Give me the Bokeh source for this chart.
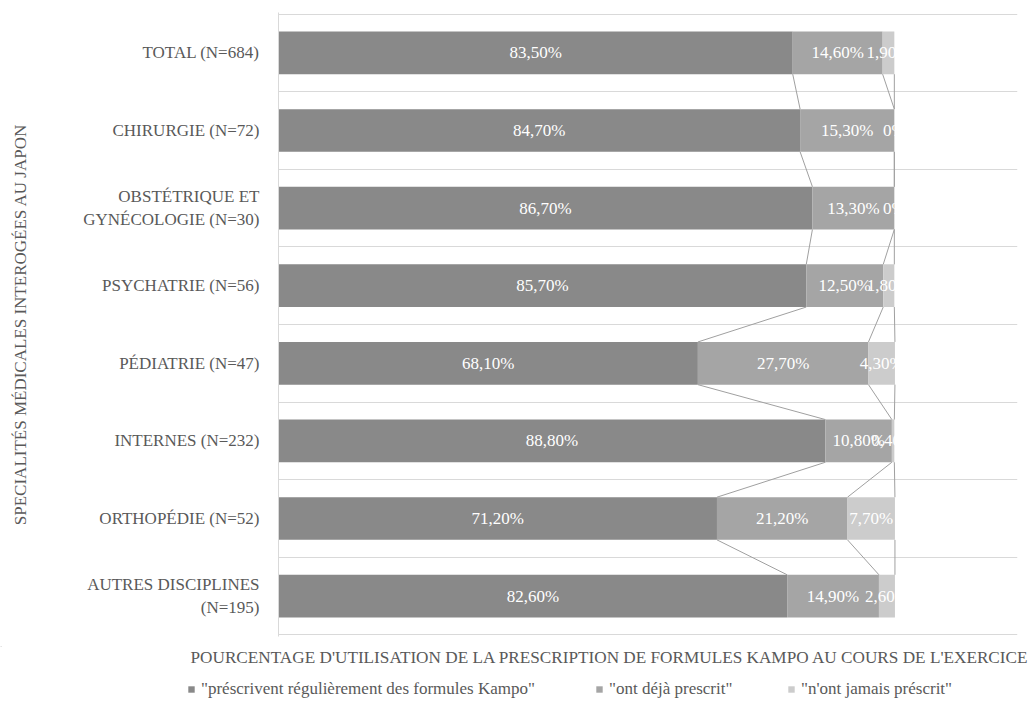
import numpy as np
from bokeh.plotting import figure
from bokeh.models import Range1d, FixedTicker, Legend, LegendItem, ColumnDataSource, Label
from bokeh.embed import file_html
from bokeh.resources import INLINE
from bokeh.core.properties import value

categories = [
    "TOTAL (N=684)",
    "CHIRURGIE (N=72)",
    "OBSTÉTRIQUE ET\nGYNÉCOLOGIE (N=30)",
    "PSYCHATRIE (N=56)",
    "PÉDIATRIE (N=47)",
    "INTERNES (N=232)",
    "ORTHOPÉDIE (N=52)",
    "AUTRES DISCIPLINES\n(N=195)",
]
regulierement = [83.5, 84.7, 86.7, 85.7, 68.1, 88.8, 71.2, 82.6]
deja_prescrit = [14.6, 15.3, 13.3, 12.5, 27.7, 10.8, 21.2, 14.9]
jamais_prescrit = [1.9, 0.0, 0.0, 1.8, 4.3, 0.4, 7.7, 2.6]
series_names = [
    '"préscrivent régulièrement des formules Kampo"',
    '"ont déjà prescrit"',
    '"n\'ont jamais préscrit"',
]
colors = ["#898989", "#a5a5a5", "#cccccc"]
x_title = "POURCENTAGE D'UTILISATION DE LA PRESCRIPTION DE FORMULES KAMPO AU COURS DE L'EXERCICE"
y_title = "SPECIALITÉS MÉDICALES INTEROGÉES AU JAPON"

FONT = "Liberation Serif"
FS = "17px"
TXT = "#595959"

n = len(categories)
pos = list(range(n))
series = [np.array(regulierement), np.array(deja_prescrit), np.array(jamais_prescrit)]
rights = np.cumsum(series, axis=0)
lefts = rights - np.array(series)

W = 1029
H_MAIN = 646
H_BOTTOM = 704 - H_MAIN

p = figure(width=W, height=H_MAIN, x_range=Range1d(0, 120), y_range=Range1d(n - 0.5 + 0.02, -0.52),
           output_backend="svg", toolbar_location=None,
           min_border_left=278, min_border_right=12, min_border_top=12, min_border_bottom=10)
p.outline_line_color = None
p.xgrid.visible = False
p.xaxis.visible = False
p.ygrid.ticker = FixedTicker(ticks=[i - 0.5 for i in range(n + 1)])
p.ygrid.grid_line_color = "#d9d9d9"
p.ygrid.grid_line_width = 1

BAR_H = 0.55

def fmt(v):
    if v == 0:
        return "0%"
    return ("%.2f%%" % v).replace(".", ",")

for k in range(3):
    src = ColumnDataSource(dict(y=pos, left=lefts[k], right=rights[k]))
    p.hbar(y="y", left="left", right="right", height=BAR_H, source=src,
           fill_color=colors[k], line_color=None)

# series lines
for k in range(3):
    x0 = rights[k][:-1]
    x1 = rights[k][1:]
    y0 = np.array(pos[:-1]) + BAR_H / 2
    y1 = np.array(pos[1:]) - BAR_H / 2
    p.segment(x0=x0, y0=y0, x1=x1, y1=y1, line_color="#a0a0a0", line_width=1)

# data labels
for k in range(3):
    src = ColumnDataSource(dict(y=pos, xc=(lefts[k] + rights[k]) / 2,
                                lab=[fmt(v) for v in series[k]]))
    p.text(x="xc", y="y", text="lab", source=src, text_align="center", text_baseline="middle",
           text_color="white", text_font=value(FONT), text_font_size=FS)

# y axis
ya = p.yaxis[0]
ya.ticker = FixedTicker(ticks=pos)
ya.major_label_overrides = {i: c for i, c in zip(pos, categories)}
ya.major_label_text_font = FONT
ya.major_label_text_font_size = FS
ya.major_label_text_color = TXT
ya.major_tick_line_color = None
ya.minor_tick_line_color = None
ya.major_label_standoff = 13
ya.axis_line_color = "#d9d9d9"
ya.axis_label = y_title
ya.axis_label_text_font = FONT
ya.axis_label_text_font_size = FS
ya.axis_label_text_font_style = "normal"
ya.axis_label_text_color = TXT
ya.axis_label_standoff = 50

# bottom strip: x-axis title and legend (screen-like coordinates)
q = figure(width=W, height=H_BOTTOM, x_range=Range1d(0, W), y_range=Range1d(704, H_MAIN),
           output_backend="svg", toolbar_location=None,
           min_border_left=0, min_border_right=0, min_border_top=0, min_border_bottom=0)
q.axis.visible = False
q.grid.visible = False
q.outline_line_color = None

q.add_layout(Label(x=190, y=657, text=x_title, text_baseline="middle", text_align="left",
                   text_font=FONT, text_font_size="17.2px", text_color=TXT))

leg_x = [187, 595, 787]
for k in range(3):
    # legend swatch renderer, kept out of view
    r = q.hbar(y=[-1000], left=[0], right=[1], height=1, fill_color=colors[k], line_color=None)
    leg = Legend(items=[LegendItem(label=series_names[k], renderers=[r])],
                 location=(leg_x[k], 5), orientation="horizontal", padding=0, margin=0,
                 border_line_color=None, background_fill_alpha=0, glyph_width=8, glyph_height=8,
                 label_standoff=6, label_text_font=FONT, label_text_font_size=FS,
                 label_text_color=TXT, label_height=20, spacing=0)
    q.add_layout(leg)

open("out.html", "w").write(file_html([p, q], INLINE))
